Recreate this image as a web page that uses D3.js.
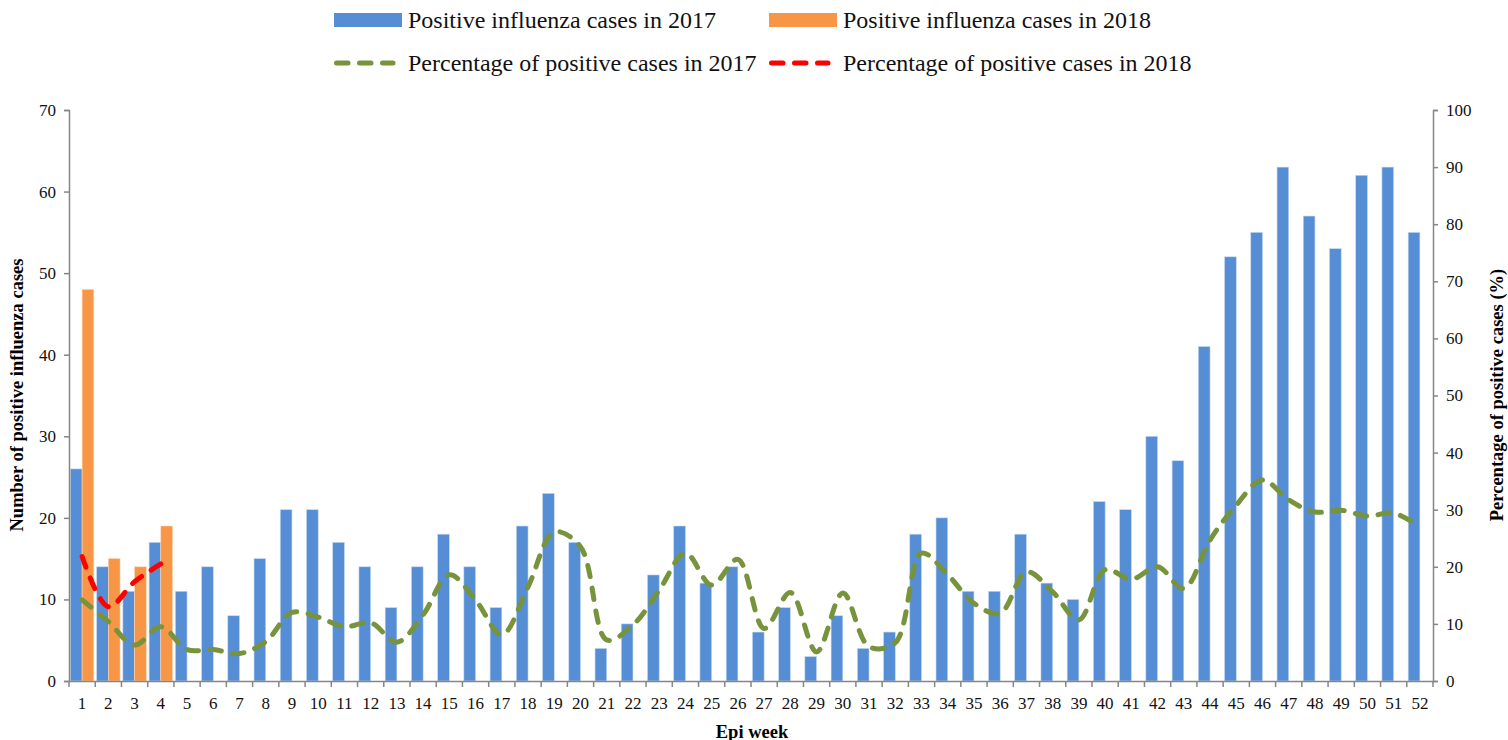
<!DOCTYPE html>
<html>
<head>
<meta charset="utf-8">
<script src="https://cdnjs.cloudflare.com/ajax/libs/d3/7.8.5/d3.min.js"></script>
<style>
body { margin: 0; background: #fff; }
svg { display: block; font-family: "Liberation Serif", "Times New Roman", serif; }
</style>
</head>
<body>
<svg id="chart" width="1508" height="740"></svg>
<script>
var weeks = d3.range(1, 53);
var cases2017 = [26,14,11,17,11,14,8,15,21,21,17,14,9,14,18,14,9,19,23,17,4,7,13,19,12,14,
                 6,9,3,8,4,6,18,20,11,11,18,12,10,22,21,30,27,41,52,55,63,57,53,62,63,55];
var cases2018 = [48,15,14,19];
var pct2017 = [14.2,10.4,6.3,9.5,5.5,5.5,4.8,6.9,12,11.2,9.5,10.2,6.8,11.6,18.6,14.2,8.1,16.5,26.1,23.5,
               7.2,9.8,15.9,22.4,16.8,21.3,9.2,15.5,5.1,15.4,6,6.7,22.4,18.6,13.6,11.9,19.1,15.6,10.7,19.5,
               17.8,20,16.2,24.7,30.8,35.2,31.7,29.6,29.9,28.9,29.4,27];
var pct2018 = [21.8,13,17.4,20.5];
var leftTicks = [0,10,20,30,40,50,60,70];
var rightTicks = [0,10,20,30,40,50,60,70,80,90,100];

var svg = d3.select("#chart");
var plotLeft = 69, plotRight = 1433, plotTop = 110, plotBottom = 681;
var axisColor = "#868686";
var blue = "#558ED5", orange = "#F79646", green = "#77933C", red = "#FF0000";
var dash = "11.5,11.5";

var x = d3.scaleBand().domain(weeks).range([plotLeft, plotRight]).padding(0);
var xs = d3.scaleBand().domain(["2017","2018"]).range([0, x.bandwidth()]).paddingInner(0).paddingOuter(0.12);
var yL = d3.scaleLinear().domain([0, 70]).range([plotBottom, plotTop]);
var yR = d3.scaleLinear().domain([0, 100]).range([plotBottom, plotTop]);

// bars
svg.append("g").selectAll("rect")
  .data(cases2017)
  .enter().append("rect")
  .attr("x", function(d, i) { return x(weeks[i]) + xs("2017"); })
  .attr("y", function(d) { return yL(d); })
  .attr("width", xs.bandwidth())
  .attr("height", function(d) { return yL(0) - yL(d); })
  .attr("fill", blue)
  .attr("stroke", "#c6d9f1")
  .attr("stroke-width", 0.6);

svg.append("g").selectAll("rect")
  .data(cases2018)
  .enter().append("rect")
  .attr("x", function(d, i) { return x(weeks[i]) + xs("2018"); })
  .attr("y", function(d) { return yL(d); })
  .attr("width", xs.bandwidth())
  .attr("height", function(d) { return yL(0) - yL(d); })
  .attr("fill", orange)
  .attr("stroke", "#fcd5b5")
  .attr("stroke-width", 0.6);

// axes
var axL = svg.append("g").attr("transform", "translate(" + plotLeft + ",0)")
  .call(d3.axisLeft(yL).tickValues(leftTicks).tickSize(5).tickPadding(8));
var axR = svg.append("g").attr("transform", "translate(" + plotRight + ",0)")
  .call(d3.axisRight(yR).tickValues(rightTicks).tickSize(5).tickPadding(8));
var axB = svg.append("g").attr("transform", "translate(0," + plotBottom + ")")
  .call(d3.axisBottom(x).tickSize(0).tickPadding(16));

// x ticks at band boundaries
svg.append("g").selectAll("line")
  .data(weeks.concat([53]))
  .enter().append("line")
  .attr("x1", function(d) { return d == 53 ? plotRight : x(d); })
  .attr("x2", function(d) { return d == 53 ? plotRight : x(d); })
  .attr("y1", plotBottom)
  .attr("y2", plotBottom + 6)
  .attr("stroke", axisColor)
  .attr("stroke-width", 1.5);

[axL, axR, axB].forEach(function(a) {
  a.selectAll("path").attr("stroke", axisColor).attr("stroke-width", 1.5);
  a.selectAll("line").attr("stroke", axisColor).attr("stroke-width", 1.5);
  a.selectAll("text").attr("font-family", "Liberation Serif").attr("font-size", 17).attr("fill", "#111");
});

// lines
var line = d3.line()
  .x(function(d, i) { return x(weeks[i]) + x.bandwidth() / 2; })
  .y(function(d) { return yR(d); })
  .curve(d3.curveCatmullRom.alpha(0.5));

svg.append("path")
  .attr("d", line(pct2017))
  .attr("fill", "none")
  .attr("stroke", green)
  .attr("stroke-width", 5)
  .attr("stroke-dasharray", dash)
  .attr("stroke-linecap", "round");

svg.append("path")
  .attr("d", line(pct2018))
  .attr("fill", "none")
  .attr("stroke", red)
  .attr("stroke-width", 5)
  .attr("stroke-dasharray", dash)
  .attr("stroke-linecap", "round");

// axis titles
svg.append("text")
  .attr("transform", "translate(23,395) rotate(-90)")
  .attr("text-anchor", "middle")
  .attr("font-weight", "bold")
  .attr("font-size", 18.5)
  .text("Number of positive influenza cases");

svg.append("text")
  .attr("transform", "translate(1503,395) rotate(-90)")
  .attr("text-anchor", "middle")
  .attr("font-weight", "bold")
  .attr("font-size", 18.5)
  .text("Percentage of positive cases (%)");

svg.append("text")
  .attr("x", 752)
  .attr("y", 738)
  .attr("text-anchor", "middle")
  .attr("font-weight", "bold")
  .attr("font-size", 18.5)
  .text("Epi week");

// legend
var legend = [
  {label: "Positive influenza cases in 2017", color: blue, type: "bar", x: 334, y: 20},
  {label: "Positive influenza cases in 2018", color: orange, type: "bar", x: 769, y: 20},
  {label: "Percentage of positive cases in 2017", color: green, type: "line", x: 334, y: 63},
  {label: "Percentage of positive cases in 2018", color: red, type: "line", x: 769, y: 63}
];

var lg = svg.append("g").selectAll("g")
  .data(legend)
  .enter().append("g")
  .attr("transform", function(d) { return "translate(" + d.x + "," + d.y + ")"; });

lg.filter(function(d) { return d.type == "bar"; })
  .append("rect")
  .attr("x", 0).attr("y", -7)
  .attr("width", 68).attr("height", 14)
  .attr("fill", function(d) { return d.color; });

lg.filter(function(d) { return d.type == "line"; })
  .append("line")
  .attr("x1", 2.5).attr("x2", 59)
  .attr("y1", 0).attr("y2", 0)
  .attr("stroke", function(d) { return d.color; })
  .attr("stroke-width", 5)
  .attr("stroke-dasharray", dash)
  .attr("stroke-linecap", "round");

lg.append("text")
  .attr("x", 74)
  .attr("y", 8)
  .attr("font-size", 24)
  .attr("fill", "#111")
  .text(function(d) { return d.label; });
</script>
</body>
</html>
